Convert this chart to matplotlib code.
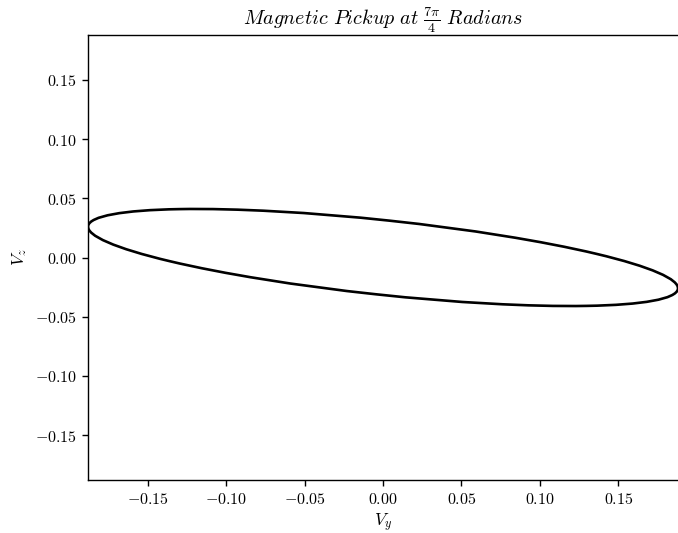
import numpy as np
import matplotlib
matplotlib.use("Agg")
import matplotlib.pyplot as plt
from matplotlib.patches import Ellipse
from matplotlib.ticker import FuncFormatter

plt.rcParams['mathtext.fontset'] = 'cm'
plt.rcParams['font.family'] = ['DejaVu Serif']

# Values
amp_y = 0.188          # peak of V_y
amp_z = 0.041          # peak of V_z
cos_phase = -0.634     # cosine of phase between V_y and V_z
axis_limit = 0.188
xticks = [-0.15, -0.10, -0.05, 0.00, 0.05, 0.10, 0.15]
yticks = [-0.15, -0.10, -0.05, 0.00, 0.05, 0.10, 0.15]

# Ellipse geometry from amplitudes and phase
cov = np.array([[amp_y**2, amp_y*amp_z*cos_phase],
                [amp_y*amp_z*cos_phase, amp_z**2]])
evals, evecs = np.linalg.eigh(cov)
major = np.sqrt(evals[1]); minor = np.sqrt(evals[0])
angle = np.degrees(np.arctan2(evecs[1, 1], evecs[0, 1]))

fig = plt.figure(figsize=(6.78, 5.33), dpi=100)
ax = fig.add_axes([88/678, 53/533, 590/678, 445/533])
ell = Ellipse((0, 0), 2*major, 2*minor, angle=angle, fill=False,
              edgecolor='black', linewidth=1.9)
ax.add_patch(ell)
ax.set_xlim(-axis_limit, axis_limit)
ax.set_ylim(-axis_limit, axis_limit)
ax.set_xticks(xticks)
ax.set_yticks(yticks)
fmt = FuncFormatter(lambda v, p: f"${v:.2f}$")
ax.xaxis.set_major_formatter(fmt)
ax.yaxis.set_major_formatter(fmt)
ax.tick_params(labelsize=11.5, length=4.5, width=1.0)
for s in ax.spines.values():
    s.set_linewidth(1.0)
ax.spines['right'].set_visible(False)
ax.set_xlabel(r"$V_y$", fontsize=12.5, labelpad=3)
ax.set_ylabel(r"$V_z$", fontsize=12.5)
ax.set_title(r"$Magnetic\ Pickup\ at\ \frac{7\pi}{4}\ Radians$", fontsize=14.5, pad=7)
fig.savefig("out.png", dpi=100)
